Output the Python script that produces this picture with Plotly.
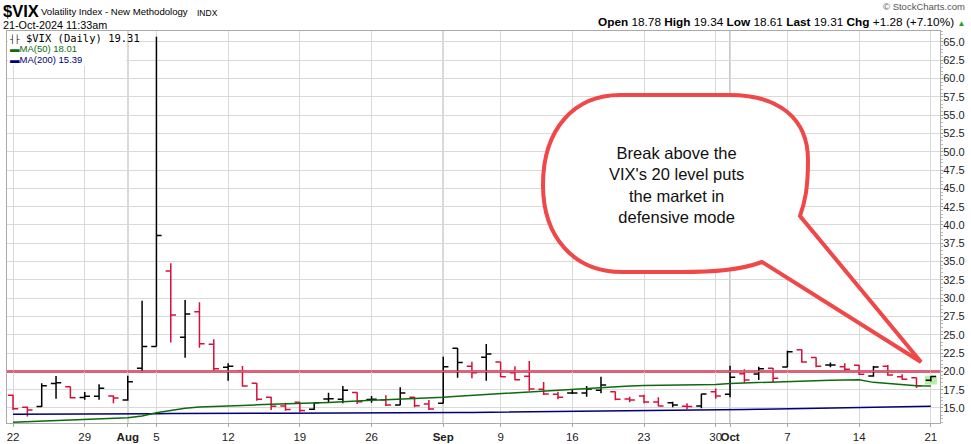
import plotly.graph_objects as go

# ---------------- data ----------------
dates = [
    "2024-07-22", "2024-07-23", "2024-07-24", "2024-07-25", "2024-07-26",
    "2024-07-29", "2024-07-30", "2024-07-31", "2024-08-01", "2024-08-02",
    "2024-08-05", "2024-08-06", "2024-08-07", "2024-08-08", "2024-08-09",
    "2024-08-12", "2024-08-13", "2024-08-14", "2024-08-15", "2024-08-16",
    "2024-08-19", "2024-08-20", "2024-08-21", "2024-08-22", "2024-08-23",
    "2024-08-26", "2024-08-27", "2024-08-28", "2024-08-29", "2024-08-30",
    "2024-09-03", "2024-09-04", "2024-09-05", "2024-09-06", "2024-09-09",
    "2024-09-10", "2024-09-11", "2024-09-12", "2024-09-13", "2024-09-16",
    "2024-09-17", "2024-09-18", "2024-09-19", "2024-09-20", "2024-09-23",
    "2024-09-24", "2024-09-25", "2024-09-26", "2024-09-27", "2024-09-30",
    "2024-10-01", "2024-10-02", "2024-10-03", "2024-10-04", "2024-10-07",
    "2024-10-08", "2024-10-09", "2024-10-10", "2024-10-11", "2024-10-14",
    "2024-10-15", "2024-10-16", "2024-10-17", "2024-10-18", "2024-10-21",
]
opens = [16.73, 15.10, 15.20, 18.35, 17.90, 16.45, 16.60, 16.65, 16.10, 20.42,
         23.39, 33.72, 24.66, 28.16, 23.70, 20.55, 20.05, 18.37, 16.46, 15.27,
         15.78, 14.82, 16.23, 16.20, 17.10, 16.15, 16.09, 15.40, 16.46, 15.55,
         15.64, 23.15, 20.69, 21.92, 21.28, 19.82, 19.33, 17.55, 16.87, 17.05,
         17.05, 17.41, 17.23, 16.23, 16.64, 15.82, 15.73, 15.25, 15.27, 17.23,
         16.87, 19.69, 19.64, 20.42, 20.60, 22.97, 21.90, 20.87, 20.64, 20.83,
         19.37, 20.69, 19.28, 19.14, 18.78]
highs = [16.80, 15.20, 18.37, 19.37, 17.92, 17.19, 18.23, 16.73, 19.40, 29.66,
         65.73, 34.77, 29.75, 29.44, 24.38, 21.10, 20.74, 18.40, 16.55, 15.73,
         15.86, 15.75, 17.09, 18.00, 17.14, 16.64, 16.73, 17.82, 16.50, 16.09,
         22.00, 23.20, 21.33, 23.74, 21.30, 20.69, 21.42, 18.55, 17.23, 17.46,
         18.00, 19.28, 17.25, 16.55, 16.82, 16.46, 15.86, 15.64, 16.95, 17.68,
         20.78, 20.28, 20.64, 20.45, 22.83, 23.00, 21.92, 21.23, 21.10, 20.87,
         20.74, 20.87, 19.60, 19.14, 19.34]
lows = [14.72, 13.85, 15.15, 16.27, 16.30, 16.14, 16.14, 15.64, 16.00, 19.87,
        23.39, 23.93, 21.87, 23.24, 20.10, 18.73, 17.91, 16.00, 14.73, 14.64,
        14.41, 14.73, 15.82, 15.64, 15.55, 15.73, 15.27, 15.36, 15.10, 14.73,
        15.60, 19.14, 19.05, 18.73, 19.23, 18.78, 17.36, 16.78, 16.19, 16.91,
        16.55, 17.00, 16.05, 15.78, 15.64, 15.23, 15.10, 14.82, 14.95, 16.27,
        16.46, 18.46, 18.83, 18.46, 20.55, 21.19, 20.55, 20.55, 20.05, 19.51,
        19.28, 19.42, 18.83, 17.73, 18.61]
closes = [14.91, 14.72, 18.04, 18.46, 16.39, 16.60, 17.69, 16.36, 18.59, 23.39,
          38.57, 27.71, 27.85, 23.79, 20.37, 20.71, 18.00, 16.19, 15.23, 14.80,
          14.65, 15.70, 16.27, 17.41, 15.86, 16.18, 15.40, 17.05, 15.30, 14.86,
          20.64, 21.23, 19.82, 22.38, 19.28, 18.87, 17.60, 16.91, 16.46, 17.05,
          17.60, 18.14, 16.20, 16.09, 15.82, 15.27, 15.41, 15.20, 16.91, 16.64,
          19.19, 18.83, 20.37, 19.05, 22.69, 21.28, 20.69, 20.87, 20.28, 19.60,
          20.60, 19.51, 18.91, 18.03, 19.31]
prior_close = 16.52

ma50 = [13.05, 13.12, 13.20, 13.28, 13.35, 13.43, 13.50, 13.58, 13.66, 13.90,
        14.35, 14.65, 14.95, 15.12, 15.22, 15.30, 15.38, 15.43, 15.50, 15.55,
        15.60, 15.66, 15.75, 15.85, 15.98, 16.05, 16.12, 16.20, 16.27, 16.33,
        16.46, 16.60, 16.72, 16.85, 16.98, 17.10, 17.20, 17.35, 17.45, 17.55,
        17.70, 17.85, 17.95, 18.02, 18.08, 18.10, 18.10, 18.12, 18.15, 18.20,
        18.35, 18.42, 18.50, 18.57, 18.66, 18.72, 18.76, 18.80, 18.83, 18.85,
        18.50, 18.33, 18.16, 18.04, 18.01]
ma200 = [14.14, 14.14, 14.14, 14.14, 14.14, 14.14, 14.15, 14.15, 14.15, 14.17,
         14.22, 14.25, 14.27, 14.27, 14.28, 14.28, 14.28, 14.28, 14.29, 14.29,
         14.29, 14.29, 14.30, 14.30, 14.30, 14.30, 14.30, 14.31, 14.31, 14.31,
         14.36, 14.38, 14.40, 14.42, 14.43, 14.44, 14.44, 14.45, 14.45, 14.46,
         14.47, 14.50, 14.58, 14.62, 14.65, 14.67, 14.69, 14.71, 14.73, 14.74,
         14.76, 14.79, 14.82, 14.85, 14.90, 14.94, 14.98, 15.03, 15.07, 15.11,
         15.14, 15.17, 15.19, 15.21, 15.23]

tick_dates = ["2024-07-22", "2024-07-29", "2024-08-01", "2024-08-05", "2024-08-12",
              "2024-08-19", "2024-08-26", "2024-09-03", "2024-09-09", "2024-09-16",
              "2024-09-23", "2024-09-30", "2024-10-01", "2024-10-07", "2024-10-14",
              "2024-10-21"]
tick_labels = ["22", "29", "<b>Aug</b>", "5", "12", "19", "26", "<b>Sep</b>", "9", "16",
               "23", "30", "<b>Oct</b>", "7", "14", "21"]
month_starts = ["2024-08-01", "2024-09-03", "2024-10-01"]
ref_level = 20.0

symbol = "$VIX"
title_name = "Volatility Index - New Methodology"
exchange = "INDX"
timestamp = "21-Oct-2024 11:33am"
last_open, last_high, last_low, last_last = 18.78, 19.34, 18.61, 19.31
chg, chg_pct = 1.28, 7.10
ma50_label, ma200_label = "MA(50) 18.01", "MA(200) 15.39"
note_lines = ["Break above the", "VIX's 20 level puts", "the market in", "defensive mode"]

# ---------------- styling / layout helpers ----------------
W, H = 971, 444
PL, PR, PT, PB = 7, 940, 31, 423
xi = list(range(len(dates)))                      # trading-day positions
X_RANGE = [-0.42, len(dates) - 1 + 0.64]
Y_RANGE = [12.95, 66.5]
UP_COLOR = "#000000"
DOWN_COLOR = "#d5103c"
MA50_COLOR = "#0d6b0d"
MA200_COLOR = "#00007a"
REF_COLOR = "#dc6478"
FONT = "Arial, Liberation Sans, sans-serif"
GRID = "#d9d9d9"


def px(x):
    return (x - PL) / (PR - PL)


def py(y):
    return (PB - y) / (PB - PT)


# colour each bar by close vs previous close
prev = [prior_close] + closes[:-1]
up_idx = [i for i in xi if closes[i] >= prev[i]]
dn_idx = [i for i in xi if closes[i] < prev[i]]

fig = go.Figure()
fig.add_trace(go.Scatter(x=xi, y=ma200, mode="lines",
                         line=dict(color=MA200_COLOR, width=1.5), hoverinfo="skip"))
fig.add_trace(go.Scatter(x=xi, y=ma50, mode="lines",
                         line=dict(color=MA50_COLOR, width=1.5), hoverinfo="skip"))

for idx, col in ((up_idx, UP_COLOR), (dn_idx, DOWN_COLOR)):
    fig.add_trace(go.Ohlc(
        x=idx,
        open=[opens[i] for i in idx],
        high=[highs[i] for i in idx],
        low=[lows[i] for i in idx],
        close=[closes[i] for i in idx],
        increasing=dict(line=dict(color=col, width=1.5)),
        decreasing=dict(line=dict(color=col, width=1.5)),
        tickwidth=0.36,
        hoverinfo="skip",
    ))

shapes = []
# darker month-start gridlines
for m in month_starts:
    p = dates.index(m)
    shapes.append(dict(type="line", xref="x", yref="paper", x0=p, x1=p, y0=0, y1=1,
                       line=dict(color="#b4b4b4", width=1.5), layer="between"))
# 20 level reference line: wide band under the bars, thin core above the gridline
shapes.append(dict(type="line", xref="paper", yref="y", x0=0, x1=1,
                   y0=ref_level, y1=ref_level,
                   line=dict(color=REF_COLOR, width=3), layer="between"))
shapes.append(dict(type="line", xref="paper", yref="y", x0=0, x1=1,
                   y0=ref_level, y1=ref_level,
                   line=dict(color=REF_COLOR, width=1.6), layer="above"))
# highlight last bar
n = len(dates) - 1
shapes.append(dict(type="rect", xref="x", yref="y", x0=n - 0.42, x1=n + 0.42,
                   y0=lows[-1] - 0.4, y1=highs[-1] + 0.08,
                   fillcolor="#b6eea6", line=dict(width=0), layer="between"))
# white panel behind the legend text
shapes.append(dict(type="rect", xref="paper", yref="paper", x0=px(8), x1=px(126),
                   y0=py(65.5), y1=py(31.6), fillcolor="white", line=dict(width=0),
                   layer="above"))


# speech bubble (paper coordinates from pixel positions)
def P(x, y):
    return f"{px(x):.5f},{py(y):.5f}"


bubble = (
    f"M {P(620, 95)} L {P(730, 95)} "
    f"C {P(778, 95)} {P(808, 118)} {P(808, 160)} "
    f"C {P(808, 188)} {P(805, 202)} {P(800, 216)} "
    f"L {P(921, 362)} L {P(762, 262)} "
    f"C {P(740, 270)} {P(715, 272)} {P(680, 272)} "
    f"L {P(622, 272)} "
    f"C {P(573, 272)} {P(543, 236)} {P(543, 185)} "
    f"C {P(543, 128)} {P(575, 95)} {P(620, 95)} Z"
)
shapes.append(dict(type="path", xref="paper", yref="paper", path=bubble,
                   fillcolor="white", line=dict(color="#f04848", width=4), layer="above"))

annotations = []


def ann(x, y, text, size, color="#000", anchor="left", family=FONT):
    annotations.append(dict(xref="paper", yref="paper", x=px(x), y=py(y), text=text,
                            showarrow=False, xanchor=anchor, yanchor="middle",
                            font=dict(family=family, size=size, color=color), borderpad=0))


# header
ann(2, 11, f"<b>{symbol}</b>", 16.5)
ann(40, 12, title_name, 9.6)
ann(196, 12.5, exchange, 8.5)
ann(2, 25, timestamp, 10.8)
ann(966, 6, "© StockCharts.com", 9.5, color="#555", anchor="right")
ann(966, 22,
    f"<b>Open</b> {last_open:.2f} <b>High</b> {last_high:.2f} <b>Low</b> {last_low:.2f} "
    f"<b>Last</b> {last_last:.2f} <b>Chg</b> {chg:+.2f} ({chg_pct:+.2f}%) "
    f"<span style='color:#2a9d2a;font-size:8px'>▲</span>",
    11.8, anchor="right")

# legend block (single multi-line annotation)
legend_text = (
    f"<span style='font-family:DejaVu Sans Mono, monospace;font-size:10.5px'>"
    f"<span style='font-size:8px'>┤├</span> {symbol} (Daily) {closes[-1]:.2f}</span><br>"
    f"<span style='color:{MA50_COLOR};font-size:9.5px'>▬{ma50_label}</span><br>"
    f"<span style='color:{MA200_COLOR};font-size:9.5px'>▬{ma200_label}</span>"
)
annotations.append(dict(xref="paper", yref="paper", x=px(8), y=py(30.5), text=legend_text,
                        showarrow=False, xanchor="left", yanchor="top", align="left",
                        borderpad=0, font=dict(family=FONT, size=8.0, color="#000")))

# bubble text
annotations.append(dict(xref="paper", yref="paper", x=px(676), y=py(185),
                        text="<br>".join(note_lines), showarrow=False,
                        xanchor="center", yanchor="middle", align="center",
                        font=dict(family=FONT, size=16.5, color="#111")))

fig.update_layout(
    width=W, height=H,
    margin=dict(l=PL, r=W - PR, t=PT, b=H - PB, pad=0, autoexpand=False),
    paper_bgcolor="white", plot_bgcolor="white",
    showlegend=False,
    font=dict(family=FONT, size=11, color="#222"),
    shapes=shapes,
    annotations=annotations,
    xaxis=dict(
        type="linear", range=X_RANGE,
        tickmode="array", tickvals=[dates.index(d) for d in tick_dates],
        ticktext=tick_labels, tickangle=0,
        showgrid=True, gridcolor=GRID, gridwidth=1, zeroline=False, automargin=False,
        showline=True, linecolor="#aaaaaa", mirror=True,
        ticks="outside", ticklen=3, tickcolor="#aaaaaa",
        tickfont=dict(family=FONT, size=11.5, color="#222"),
        rangeslider=dict(visible=False), fixedrange=True,
    ),
    yaxis=dict(
        side="right", range=Y_RANGE, automargin=False,
        tick0=0, dtick=2.5, tickformat=".1f",
        showgrid=True, gridcolor=GRID, gridwidth=1, zeroline=False,
        showline=True, linecolor="#aaaaaa", mirror=True,
        ticks="outside", ticklen=2, tickcolor="#999999",
        ticklabelstandoff=-2,
        minor=dict(dtick=0.5, ticks="outside", ticklen=2, tickcolor="#bbbbbb", showgrid=False),
        tickfont=dict(family=FONT, size=11, color="#222"),
        fixedrange=True,
    ),
)

fig.write_html(
    "out.html",
    config={"displayModeBar": False},
    post_script="document.body.style.margin='0px';document.body.style.padding='0px';",
)
